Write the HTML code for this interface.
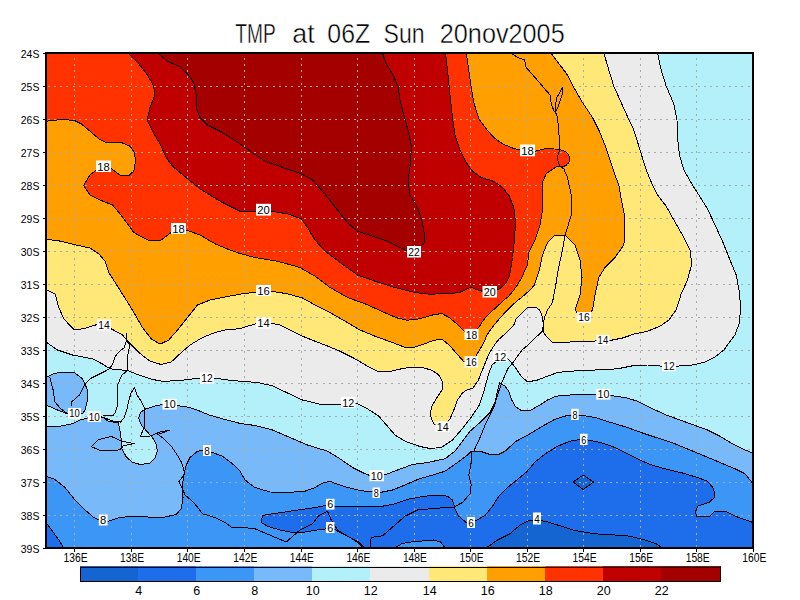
<!DOCTYPE html>
<html><head><meta charset="utf-8"><title>TMP at 06Z Sun 20nov2005</title>
<style>html,body{margin:0;padding:0;background:#fff;}svg{display:block;}text{font-family:"Liberation Sans",sans-serif;fill:#000;}</style></head><body>
<svg width="800" height="600" viewBox="0 0 800 600">
<rect x="0" y="0" width="800" height="600" fill="#fff"/>
<defs><clipPath id="cp"><rect x="46" y="53" width="707" height="495"/></clipPath></defs>
<g clip-path="url(#cp)">
<rect x="46" y="53" width="707" height="495" fill="rgb(30,110,235)"/>
<path d="M486.2 548.0 L497.5 540.0 L510.0 533.8 L520.0 525.0 L527.5 521.2 L533.0 520.0 L545.0 521.2 L557.5 525.0 L575.0 530.5 L595.0 533.8 L615.0 535.0 L630.0 536.2 L645.0 540.0 L656.2 543.8 L662.5 548.0Z" fill="rgb(20,100,210)"/>
<path d="M573.0 482.0 L583.2 475.0 L593.5 482.0 L583.2 489.5Z" fill="rgb(20,100,210)"/>
<path d="M46.0 53.0 L753.0 53.0 L753.0 522.5 L737.5 517.0 L725.0 511.2 L715.0 511.2 L710.0 516.2 L696.2 516.2 L695.8 511.2 L697.5 506.2 L708.8 502.5 L714.5 497.5 L713.8 488.8 L707.5 481.2 L697.5 477.5 L682.5 473.0 L665.0 468.8 L650.0 464.5 L637.5 458.8 L625.0 452.5 L612.5 446.5 L600.0 442.5 L588.0 440.0 L580.0 439.5 L570.0 441.2 L557.5 446.2 L545.0 454.0 L535.0 462.0 L527.0 471.5 L517.5 479.5 L507.5 487.5 L498.8 496.2 L492.5 506.2 L485.0 515.5 L475.0 521.2 L466.2 522.5 L458.8 516.2 L455.0 508.8 L452.5 500.0 L447.5 496.2 L440.0 495.0 L425.0 496.2 L410.0 498.8 L395.0 503.8 L382.5 506.2 L360.0 507.0 L334.5 506.2 L326.2 505.5 L312.5 508.0 L290.0 511.2 L272.5 513.8 L262.5 515.5 L261.2 522.5 L267.5 526.2 L280.0 530.0 L292.5 532.5 L305.0 532.0 L317.5 530.0 L326.2 528.8 L335.0 529.5 L340.0 532.5 L350.0 537.5 L357.5 542.5 L363.8 548.0 L63.8 548.0 L63.8 548.0 L58.8 540.0 L52.5 531.2 L46.0 522.5Z" fill="rgb(60,150,245)"/>
<path d="M46.0 53.0 L753.0 53.0 L753.0 483.8 L750.0 480.0 L745.0 473.8 L735.0 468.8 L720.0 462.5 L705.0 456.2 L690.0 450.0 L675.0 443.8 L660.0 438.8 L642.5 433.0 L627.5 427.5 L610.0 422.2 L595.0 417.5 L580.0 415.0 L571.2 415.0 L566.2 415.8 L555.0 419.2 L542.5 426.2 L530.0 433.8 L516.2 441.2 L505.0 451.2 L497.5 455.0 L490.0 454.5 L480.0 451.2 L471.2 451.2 L467.5 455.0 L457.5 462.5 L445.0 471.2 L432.5 475.2 L420.0 478.5 L405.0 485.0 L392.5 490.0 L380.0 492.5 L372.5 492.0 L360.0 490.5 L347.5 487.5 L336.2 483.8 L330.0 481.2 L322.5 483.2 L315.0 487.5 L305.0 491.2 L287.5 492.5 L270.0 492.0 L255.0 487.5 L245.0 480.0 L240.0 471.0 L232.5 463.8 L222.5 456.2 L212.5 452.5 L203.8 450.5 L197.5 451.2 L190.0 457.5 L186.2 465.0 L183.8 475.0 L182.5 485.0 L183.0 497.5 L181.2 508.8 L176.2 514.5 L165.0 517.0 L147.5 517.0 L132.5 516.2 L120.0 517.5 L108.0 521.2 L99.5 520.0 L93.8 517.5 L85.0 510.0 L75.0 500.0 L65.0 487.5 L55.0 479.5 L46.0 476.2Z" fill="rgb(120,185,250)"/>
<path d="M46.0 53.0 L753.0 53.0 L753.0 453.0 L745.0 450.0 L732.5 443.8 L720.0 436.2 L707.5 430.0 L695.0 425.5 L680.0 420.0 L665.0 414.5 L650.0 407.5 L637.5 401.2 L625.0 397.5 L610.5 395.5 L596.2 395.0 L585.0 394.5 L570.0 395.0 L556.2 396.2 L547.5 400.0 L540.0 405.0 L530.0 410.5 L521.2 410.5 L515.0 406.2 L511.2 398.8 L508.8 391.2 L505.0 386.2 L499.5 382.5 L497.5 391.2 L495.0 402.5 L490.0 412.5 L480.0 422.5 L470.0 431.2 L462.5 441.2 L455.0 451.2 L445.0 458.8 L427.5 462.5 L412.5 464.5 L397.5 470.0 L384.5 475.0 L370.0 475.5 L365.0 473.8 L352.5 467.5 L340.0 458.8 L327.5 451.2 L307.5 445.0 L290.0 437.5 L272.5 430.0 L255.0 425.5 L240.0 423.4 L222.5 418.8 L209.5 415.1 L199.0 410.8 L188.5 407.2 L177.0 405.5 L162.2 404.6 L153.5 406.4 L145.6 409.0 L140.4 412.5 L138.6 417.8 L141.2 424.8 L146.5 430.9 L152.6 437.9 L156.1 444.0 L157.4 451.0 L155.2 458.0 L150.0 463.2 L140.4 464.5 L132.5 462.4 L126.4 457.1 L122.0 449.2 L121.1 438.8 L119.9 430.0 L118.5 423.0 L108.0 421.2 L103.6 417.4 L101.0 416.9 L87.5 418.0 L80.0 420.0 L72.5 423.8 L60.0 426.2 L46.0 426.2Z" fill="rgb(180,240,250)"/>
<path d="M46.0 377.5 L55.0 373.2 L65.0 372.0 L75.0 373.0 L82.5 378.8 L87.0 388.8 L87.5 400.0 L85.0 410.0 L82.5 413.8 L67.5 413.8 L57.5 410.0 L46.0 405.0Z" fill="rgb(120,185,250)"/>
<path d="M395.0 548.0 L402.0 543.5 L412.5 541.8 L423.0 540.9 L433.5 540.0 L440.5 541.8 L445.0 548.0Z" fill="rgb(60,150,245)"/>
<path d="M46.0 53.0 L657.5 53.0 L661.2 70.0 L666.2 86.2 L673.8 103.8 L677.0 120.0 L677.5 137.5 L679.5 155.0 L683.8 170.0 L692.5 185.0 L698.8 195.0 L707.5 208.8 L715.0 225.0 L722.5 241.2 L730.0 260.0 L736.2 275.0 L739.5 292.5 L740.5 307.5 L739.5 322.5 L735.0 335.0 L729.0 343.0 L723.8 350.0 L715.0 357.0 L705.0 362.0 L692.5 365.0 L676.2 366.2 L662.0 366.2 L647.5 365.0 L632.5 365.8 L617.5 368.8 L595.0 370.0 L570.0 371.2 L557.5 372.5 L547.5 376.2 L537.5 380.0 L527.5 382.0 L521.2 376.2 L516.2 368.8 L511.2 362.0 L506.9 358.2 L495.5 362.0 L492.0 365.2 L488.5 374.0 L484.0 391.0 L478.8 406.2 L470.0 418.8 L461.2 430.0 L452.5 440.0 L441.2 447.5 L430.0 448.5 L420.0 446.5 L405.0 441.2 L395.0 435.0 L387.5 426.2 L378.8 416.2 L367.5 408.8 L356.2 403.0 L341.2 404.2 L320.0 404.2 L302.5 400.0 L287.5 393.0 L272.5 385.8 L257.5 382.5 L240.0 381.2 L227.5 380.0 L213.8 378.0 L200.0 378.0 L190.0 379.2 L177.5 380.8 L162.5 381.2 L152.5 379.5 L140.0 375.5 L127.5 370.5 L110.0 368.8 L102.5 364.0 L92.5 358.8 L72.5 355.0 L57.5 350.0 L46.0 342.0Z" fill="rgb(235,235,235)"/>
<path d="M46.0 53.0 L603.8 53.0 L608.8 70.0 L613.8 86.2 L625.0 111.2 L633.8 130.0 L640.0 150.0 L646.2 170.0 L652.5 185.0 L657.5 195.0 L666.2 206.2 L673.8 220.0 L682.5 235.0 L690.0 250.0 L691.8 263.8 L687.5 280.0 L681.2 293.8 L676.2 310.0 L668.8 320.0 L660.0 326.2 L647.5 331.2 L635.0 333.8 L622.5 338.0 L610.0 340.5 L596.4 340.9 L583.2 341.8 L564.0 342.1 L552.5 342.2 L545.6 335.6 L543.1 331.2 L543.1 322.5 L542.5 316.9 L540.0 310.6 L536.2 307.2 L527.5 307.2 L522.5 312.5 L518.8 316.2 L516.2 318.8 L513.8 325.0 L508.8 330.0 L503.8 335.0 L498.8 339.4 L494.4 345.0 L488.5 354.8 L485.0 363.5 L481.5 372.2 L478.0 381.0 L472.8 388.0 L466.0 390.5 L462.0 393.5 L457.5 400.0 L453.8 410.0 L450.0 418.8 L447.0 423.0 L438.0 426.5 L433.8 423.8 L430.5 416.2 L431.2 407.5 L436.2 398.8 L442.6 389.0 L442.1 381.0 L438.6 374.9 L432.5 370.5 L423.8 367.9 L415.0 367.0 L406.2 367.9 L397.5 369.6 L388.8 371.9 L377.5 371.2 L367.5 366.2 L355.0 358.8 L340.0 351.2 L325.0 345.0 L315.0 341.2 L302.5 336.2 L290.0 330.0 L280.0 325.0 L271.2 323.2 L256.0 323.8 L247.5 326.2 L240.0 328.8 L227.5 329.5 L215.0 332.5 L202.5 337.5 L190.0 345.0 L180.0 353.8 L171.2 362.0 L161.2 364.5 L150.0 361.2 L138.8 352.5 L128.8 342.5 L122.5 335.0 L111.2 328.8 L97.0 324.5 L83.8 328.8 L73.8 329.5 L63.8 318.8 L58.8 307.5 L55.0 293.8 L46.0 289.5Z" fill="rgb(255,232,120)"/>
<path d="M46.0 53.0 L550.8 53.0 L560.0 65.0 L567.5 75.0 L573.8 87.5 L582.5 102.5 L592.5 117.5 L598.8 130.0 L605.0 145.0 L610.0 160.0 L615.0 175.0 L618.8 185.0 L620.5 195.0 L624.5 215.0 L625.0 232.5 L623.8 245.0 L615.0 257.5 L605.0 267.5 L598.8 277.5 L595.0 295.0 L592.5 310.0 L588.0 316.0 L580.0 316.0 L575.0 310.0 L580.0 295.0 L582.0 277.5 L580.0 260.0 L575.0 245.0 L565.0 235.0 L555.0 235.0 L547.5 242.5 L542.5 255.0 L539.4 270.0 L537.5 275.0 L535.6 281.2 L534.4 285.0 L530.0 290.0 L523.8 295.6 L517.5 300.6 L511.2 306.2 L505.0 312.5 L500.0 318.1 L496.2 322.5 L491.2 328.8 L486.9 335.0 L485.0 340.0 L482.5 345.0 L479.0 351.0 L476.0 356.0 L471.0 362.0 L464.0 361.8 L457.0 354.0 L450.0 346.0 L442.0 339.0 L434.0 340.4 L425.5 343.4 L415.0 347.0 L406.0 347.8 L392.5 342.5 L375.0 336.2 L360.0 330.0 L345.0 321.2 L330.0 312.5 L315.0 305.0 L302.5 298.0 L287.5 293.8 L271.2 291.2 L256.0 292.0 L240.0 294.2 L225.0 297.0 L210.0 300.0 L197.5 305.0 L187.5 317.5 L177.5 330.0 L168.8 340.0 L160.0 344.2 L151.2 338.8 L142.5 327.5 L133.8 312.5 L126.2 300.0 L117.5 286.2 L108.8 272.5 L105.0 261.2 L98.8 253.8 L90.0 248.0 L72.5 244.2 L57.5 240.5 L46.0 239.5Z" fill="rgb(255,160,0)"/>
<path d="M46.0 53.0 L466.2 53.0 L468.8 70.0 L471.2 87.5 L473.8 102.5 L478.8 118.8 L486.2 128.8 L493.8 137.5 L502.5 143.8 L512.5 148.0 L520.0 150.0 L535.0 151.2 L547.5 148.2 L558.8 149.5 L565.0 151.2 L568.8 155.0 L570.0 160.0 L567.5 164.5 L562.5 167.0 L557.5 166.2 L552.5 169.2 L546.2 173.8 L543.0 181.2 L542.0 195.0 L542.5 210.0 L540.0 225.0 L535.0 240.0 L528.8 252.5 L527.5 265.0 L525.0 270.0 L521.9 277.5 L518.1 283.8 L513.8 290.0 L508.1 296.9 L503.8 300.0 L497.5 306.2 L491.9 311.2 L485.0 318.1 L481.9 322.5 L478.8 327.5 L471.0 334.0 L464.0 331.1 L457.0 324.1 L450.0 318.0 L442.1 313.6 L434.2 314.5 L425.5 317.1 L415.0 319.8 L406.2 320.1 L397.5 318.0 L388.8 314.5 L380.0 310.5 L365.0 303.8 L347.5 297.5 L330.0 287.5 L315.0 276.2 L300.0 267.5 L277.5 261.2 L255.0 257.5 L240.0 253.5 L230.0 250.0 L215.0 243.8 L200.0 235.0 L186.2 230.0 L178.0 229.0 L171.2 232.5 L161.2 240.0 L147.5 240.0 L133.8 232.5 L127.5 223.8 L120.0 213.8 L112.5 205.0 L100.0 200.0 L90.0 195.0 L87.5 191.2 L83.8 185.5 L86.2 181.2 L90.0 175.0 L98.0 169.0 L108.0 166.5 L112.5 169.5 L120.0 175.0 L128.8 175.5 L133.8 171.2 L135.5 161.2 L134.5 152.5 L130.0 146.2 L121.2 142.5 L105.0 142.0 L98.8 138.8 L90.0 131.2 L81.2 123.8 L75.0 120.8 L63.8 119.2 L46.0 121.2Z" fill="rgb(255,50,0)"/>
<path d="M128.0 53.0 L138.8 63.8 L147.5 75.0 L153.8 86.2 L154.5 96.2 L150.0 107.5 L147.0 120.0 L152.5 131.2 L160.0 143.8 L166.2 157.5 L172.5 166.2 L187.5 178.8 L200.0 188.8 L210.0 195.0 L220.0 201.2 L232.5 207.5 L240.0 211.2 L256.0 212.0 L271.2 211.2 L287.5 213.8 L301.2 218.8 L307.5 227.5 L315.0 240.0 L325.0 251.2 L340.0 262.5 L357.5 275.0 L375.0 281.2 L395.0 287.5 L415.0 292.5 L430.0 294.2 L440.0 293.8 L450.0 293.8 L460.0 292.2 L465.0 290.0 L470.6 287.2 L476.2 289.4 L482.2 291.2 L490.0 291.5 L497.5 289.8 L502.5 286.9 L506.2 282.5 L509.4 276.2 L510.6 270.0 L512.5 257.5 L514.5 240.0 L515.5 222.5 L513.8 207.5 L508.8 195.0 L502.5 187.5 L493.8 181.2 L481.2 177.5 L472.5 171.2 L466.2 162.5 L460.0 150.0 L455.0 135.0 L452.5 117.5 L450.0 95.0 L447.5 70.0 L445.5 53.0Z" fill="rgb(192,0,0)"/>
<path d="M157.5 53.0 L167.5 61.2 L178.8 66.2 L187.5 73.8 L193.8 82.5 L196.2 95.0 L196.2 107.5 L200.0 117.5 L207.5 125.0 L222.5 132.5 L232.5 138.8 L240.0 143.8 L250.0 151.2 L265.0 161.2 L290.0 170.0 L301.2 173.8 L312.5 180.0 L325.0 194.2 L337.5 210.0 L347.5 222.5 L357.5 231.2 L372.5 236.2 L387.5 241.2 L400.0 247.5 L407.5 251.2 L415.0 251.0 L421.0 246.0 L423.8 243.8 L425.0 237.5 L422.5 222.5 L417.5 207.5 L410.0 195.0 L408.0 180.0 L410.8 162.5 L411.2 145.0 L408.0 130.0 L403.8 115.0 L400.0 100.0 L398.0 86.2 L392.5 73.8 L386.2 63.8 L382.5 53.0Z" fill="rgb(165,0,0)"/>
<path d="M74.5 53 V548 M131.5 53 V548 M187.5 53 V548 M244.5 53 V548 M301.5 53 V548 M357.5 53 V548 M414.5 53 V548 M470.5 53 V548 M527.5 53 V548 M583.5 53 V548 M640.5 53 V548 M696.5 53 V548" fill="none" stroke="rgb(165,172,172)" stroke-width="1" stroke-dasharray="2 4.25" shape-rendering="crispEdges" stroke-dashoffset="1.75"/>
<path d="M46 86.5 H753 M46 119.5 H753 M46 152.5 H753 M46 185.5 H753 M46 218.5 H753 M46 251.5 H753 M46 284.5 H753 M46 317.5 H753 M46 350.5 H753 M46 383.5 H753 M46 416.5 H753 M46 449.5 H753 M46 482.5 H753 M46 515.5 H753" fill="none" stroke="rgb(165,172,172)" stroke-width="1" stroke-dasharray="2 4.25" shape-rendering="crispEdges" stroke-dashoffset="4.75"/>
<path d="M486.2 548.0 L497.5 540.0 L510.0 533.8 L520.0 525.0 L527.5 521.2 L533.0 520.0 L545.0 521.2 L557.5 525.0 L575.0 530.5 L595.0 533.8 L615.0 535.0 L630.0 536.2 L645.0 540.0 L656.2 543.8 L662.5 548.0Z" fill="none" stroke="#000" stroke-width="1" stroke-linejoin="round" shape-rendering="crispEdges"/>
<path d="M573.0 482.0 L583.2 475.0 L593.5 482.0 L583.2 489.5Z" fill="none" stroke="#000" stroke-width="1" stroke-linejoin="round" shape-rendering="crispEdges"/>
<path d="M46.0 53.0 L753.0 53.0 L753.0 522.5 L737.5 517.0 L725.0 511.2 L715.0 511.2 L710.0 516.2 L696.2 516.2 L695.8 511.2 L697.5 506.2 L708.8 502.5 L714.5 497.5 L713.8 488.8 L707.5 481.2 L697.5 477.5 L682.5 473.0 L665.0 468.8 L650.0 464.5 L637.5 458.8 L625.0 452.5 L612.5 446.5 L600.0 442.5 L588.0 440.0 L580.0 439.5 L570.0 441.2 L557.5 446.2 L545.0 454.0 L535.0 462.0 L527.0 471.5 L517.5 479.5 L507.5 487.5 L498.8 496.2 L492.5 506.2 L485.0 515.5 L475.0 521.2 L466.2 522.5 L458.8 516.2 L455.0 508.8 L452.5 500.0 L447.5 496.2 L440.0 495.0 L425.0 496.2 L410.0 498.8 L395.0 503.8 L382.5 506.2 L360.0 507.0 L334.5 506.2 L326.2 505.5 L312.5 508.0 L290.0 511.2 L272.5 513.8 L262.5 515.5 L261.2 522.5 L267.5 526.2 L280.0 530.0 L292.5 532.5 L305.0 532.0 L317.5 530.0 L326.2 528.8 L335.0 529.5 L340.0 532.5 L350.0 537.5 L357.5 542.5 L363.8 548.0 L63.8 548.0 L63.8 548.0 L58.8 540.0 L52.5 531.2 L46.0 522.5Z" fill="none" stroke="#000" stroke-width="1" stroke-linejoin="round" shape-rendering="crispEdges"/>
<path d="M46.0 53.0 L753.0 53.0 L753.0 483.8 L750.0 480.0 L745.0 473.8 L735.0 468.8 L720.0 462.5 L705.0 456.2 L690.0 450.0 L675.0 443.8 L660.0 438.8 L642.5 433.0 L627.5 427.5 L610.0 422.2 L595.0 417.5 L580.0 415.0 L571.2 415.0 L566.2 415.8 L555.0 419.2 L542.5 426.2 L530.0 433.8 L516.2 441.2 L505.0 451.2 L497.5 455.0 L490.0 454.5 L480.0 451.2 L471.2 451.2 L467.5 455.0 L457.5 462.5 L445.0 471.2 L432.5 475.2 L420.0 478.5 L405.0 485.0 L392.5 490.0 L380.0 492.5 L372.5 492.0 L360.0 490.5 L347.5 487.5 L336.2 483.8 L330.0 481.2 L322.5 483.2 L315.0 487.5 L305.0 491.2 L287.5 492.5 L270.0 492.0 L255.0 487.5 L245.0 480.0 L240.0 471.0 L232.5 463.8 L222.5 456.2 L212.5 452.5 L203.8 450.5 L197.5 451.2 L190.0 457.5 L186.2 465.0 L183.8 475.0 L182.5 485.0 L183.0 497.5 L181.2 508.8 L176.2 514.5 L165.0 517.0 L147.5 517.0 L132.5 516.2 L120.0 517.5 L108.0 521.2 L99.5 520.0 L93.8 517.5 L85.0 510.0 L75.0 500.0 L65.0 487.5 L55.0 479.5 L46.0 476.2Z" fill="none" stroke="#000" stroke-width="1" stroke-linejoin="round" shape-rendering="crispEdges"/>
<path d="M46.0 53.0 L753.0 53.0 L753.0 453.0 L745.0 450.0 L732.5 443.8 L720.0 436.2 L707.5 430.0 L695.0 425.5 L680.0 420.0 L665.0 414.5 L650.0 407.5 L637.5 401.2 L625.0 397.5 L610.5 395.5 L596.2 395.0 L585.0 394.5 L570.0 395.0 L556.2 396.2 L547.5 400.0 L540.0 405.0 L530.0 410.5 L521.2 410.5 L515.0 406.2 L511.2 398.8 L508.8 391.2 L505.0 386.2 L499.5 382.5 L497.5 391.2 L495.0 402.5 L490.0 412.5 L480.0 422.5 L470.0 431.2 L462.5 441.2 L455.0 451.2 L445.0 458.8 L427.5 462.5 L412.5 464.5 L397.5 470.0 L384.5 475.0 L370.0 475.5 L365.0 473.8 L352.5 467.5 L340.0 458.8 L327.5 451.2 L307.5 445.0 L290.0 437.5 L272.5 430.0 L255.0 425.5 L240.0 423.4 L222.5 418.8 L209.5 415.1 L199.0 410.8 L188.5 407.2 L177.0 405.5 L162.2 404.6 L153.5 406.4 L145.6 409.0 L140.4 412.5 L138.6 417.8 L141.2 424.8 L146.5 430.9 L152.6 437.9 L156.1 444.0 L157.4 451.0 L155.2 458.0 L150.0 463.2 L140.4 464.5 L132.5 462.4 L126.4 457.1 L122.0 449.2 L121.1 438.8 L119.9 430.0 L118.5 423.0 L108.0 421.2 L103.6 417.4 L101.0 416.9 L87.5 418.0 L80.0 420.0 L72.5 423.8 L60.0 426.2 L46.0 426.2Z" fill="none" stroke="#000" stroke-width="1" stroke-linejoin="round" shape-rendering="crispEdges"/>
<path d="M46.0 377.5 L55.0 373.2 L65.0 372.0 L75.0 373.0 L82.5 378.8 L87.0 388.8 L87.5 400.0 L85.0 410.0 L82.5 413.8 L67.5 413.8 L57.5 410.0 L46.0 405.0Z" fill="none" stroke="#000" stroke-width="1" stroke-linejoin="round" shape-rendering="crispEdges"/>
<path d="M395.0 548.0 L402.0 543.5 L412.5 541.8 L423.0 540.9 L433.5 540.0 L440.5 541.8 L445.0 548.0Z" fill="none" stroke="#000" stroke-width="1" stroke-linejoin="round" shape-rendering="crispEdges"/>
<path d="M46.0 53.0 L657.5 53.0 L661.2 70.0 L666.2 86.2 L673.8 103.8 L677.0 120.0 L677.5 137.5 L679.5 155.0 L683.8 170.0 L692.5 185.0 L698.8 195.0 L707.5 208.8 L715.0 225.0 L722.5 241.2 L730.0 260.0 L736.2 275.0 L739.5 292.5 L740.5 307.5 L739.5 322.5 L735.0 335.0 L729.0 343.0 L723.8 350.0 L715.0 357.0 L705.0 362.0 L692.5 365.0 L676.2 366.2 L662.0 366.2 L647.5 365.0 L632.5 365.8 L617.5 368.8 L595.0 370.0 L570.0 371.2 L557.5 372.5 L547.5 376.2 L537.5 380.0 L527.5 382.0 L521.2 376.2 L516.2 368.8 L511.2 362.0 L506.9 358.2 L495.5 362.0 L492.0 365.2 L488.5 374.0 L484.0 391.0 L478.8 406.2 L470.0 418.8 L461.2 430.0 L452.5 440.0 L441.2 447.5 L430.0 448.5 L420.0 446.5 L405.0 441.2 L395.0 435.0 L387.5 426.2 L378.8 416.2 L367.5 408.8 L356.2 403.0 L341.2 404.2 L320.0 404.2 L302.5 400.0 L287.5 393.0 L272.5 385.8 L257.5 382.5 L240.0 381.2 L227.5 380.0 L213.8 378.0 L200.0 378.0 L190.0 379.2 L177.5 380.8 L162.5 381.2 L152.5 379.5 L140.0 375.5 L127.5 370.5 L110.0 368.8 L102.5 364.0 L92.5 358.8 L72.5 355.0 L57.5 350.0 L46.0 342.0Z" fill="none" stroke="#000" stroke-width="1" stroke-linejoin="round" shape-rendering="crispEdges"/>
<path d="M46.0 53.0 L603.8 53.0 L608.8 70.0 L613.8 86.2 L625.0 111.2 L633.8 130.0 L640.0 150.0 L646.2 170.0 L652.5 185.0 L657.5 195.0 L666.2 206.2 L673.8 220.0 L682.5 235.0 L690.0 250.0 L691.8 263.8 L687.5 280.0 L681.2 293.8 L676.2 310.0 L668.8 320.0 L660.0 326.2 L647.5 331.2 L635.0 333.8 L622.5 338.0 L610.0 340.5 L596.4 340.9 L583.2 341.8 L564.0 342.1 L552.5 342.2 L545.6 335.6 L543.1 331.2 L543.1 322.5 L542.5 316.9 L540.0 310.6 L536.2 307.2 L527.5 307.2 L522.5 312.5 L518.8 316.2 L516.2 318.8 L513.8 325.0 L508.8 330.0 L503.8 335.0 L498.8 339.4 L494.4 345.0 L488.5 354.8 L485.0 363.5 L481.5 372.2 L478.0 381.0 L472.8 388.0 L466.0 390.5 L462.0 393.5 L457.5 400.0 L453.8 410.0 L450.0 418.8 L447.0 423.0 L438.0 426.5 L433.8 423.8 L430.5 416.2 L431.2 407.5 L436.2 398.8 L442.6 389.0 L442.1 381.0 L438.6 374.9 L432.5 370.5 L423.8 367.9 L415.0 367.0 L406.2 367.9 L397.5 369.6 L388.8 371.9 L377.5 371.2 L367.5 366.2 L355.0 358.8 L340.0 351.2 L325.0 345.0 L315.0 341.2 L302.5 336.2 L290.0 330.0 L280.0 325.0 L271.2 323.2 L256.0 323.8 L247.5 326.2 L240.0 328.8 L227.5 329.5 L215.0 332.5 L202.5 337.5 L190.0 345.0 L180.0 353.8 L171.2 362.0 L161.2 364.5 L150.0 361.2 L138.8 352.5 L128.8 342.5 L122.5 335.0 L111.2 328.8 L97.0 324.5 L83.8 328.8 L73.8 329.5 L63.8 318.8 L58.8 307.5 L55.0 293.8 L46.0 289.5Z" fill="none" stroke="#000" stroke-width="1" stroke-linejoin="round" shape-rendering="crispEdges"/>
<path d="M46.0 53.0 L550.8 53.0 L560.0 65.0 L567.5 75.0 L573.8 87.5 L582.5 102.5 L592.5 117.5 L598.8 130.0 L605.0 145.0 L610.0 160.0 L615.0 175.0 L618.8 185.0 L620.5 195.0 L624.5 215.0 L625.0 232.5 L623.8 245.0 L615.0 257.5 L605.0 267.5 L598.8 277.5 L595.0 295.0 L592.5 310.0 L588.0 316.0 L580.0 316.0 L575.0 310.0 L580.0 295.0 L582.0 277.5 L580.0 260.0 L575.0 245.0 L565.0 235.0 L555.0 235.0 L547.5 242.5 L542.5 255.0 L539.4 270.0 L537.5 275.0 L535.6 281.2 L534.4 285.0 L530.0 290.0 L523.8 295.6 L517.5 300.6 L511.2 306.2 L505.0 312.5 L500.0 318.1 L496.2 322.5 L491.2 328.8 L486.9 335.0 L485.0 340.0 L482.5 345.0 L479.0 351.0 L476.0 356.0 L471.0 362.0 L464.0 361.8 L457.0 354.0 L450.0 346.0 L442.0 339.0 L434.0 340.4 L425.5 343.4 L415.0 347.0 L406.0 347.8 L392.5 342.5 L375.0 336.2 L360.0 330.0 L345.0 321.2 L330.0 312.5 L315.0 305.0 L302.5 298.0 L287.5 293.8 L271.2 291.2 L256.0 292.0 L240.0 294.2 L225.0 297.0 L210.0 300.0 L197.5 305.0 L187.5 317.5 L177.5 330.0 L168.8 340.0 L160.0 344.2 L151.2 338.8 L142.5 327.5 L133.8 312.5 L126.2 300.0 L117.5 286.2 L108.8 272.5 L105.0 261.2 L98.8 253.8 L90.0 248.0 L72.5 244.2 L57.5 240.5 L46.0 239.5Z" fill="none" stroke="#000" stroke-width="1" stroke-linejoin="round" shape-rendering="crispEdges"/>
<path d="M46.0 53.0 L466.2 53.0 L468.8 70.0 L471.2 87.5 L473.8 102.5 L478.8 118.8 L486.2 128.8 L493.8 137.5 L502.5 143.8 L512.5 148.0 L520.0 150.0 L535.0 151.2 L547.5 148.2 L558.8 149.5 L565.0 151.2 L568.8 155.0 L570.0 160.0 L567.5 164.5 L562.5 167.0 L557.5 166.2 L552.5 169.2 L546.2 173.8 L543.0 181.2 L542.0 195.0 L542.5 210.0 L540.0 225.0 L535.0 240.0 L528.8 252.5 L527.5 265.0 L525.0 270.0 L521.9 277.5 L518.1 283.8 L513.8 290.0 L508.1 296.9 L503.8 300.0 L497.5 306.2 L491.9 311.2 L485.0 318.1 L481.9 322.5 L478.8 327.5 L471.0 334.0 L464.0 331.1 L457.0 324.1 L450.0 318.0 L442.1 313.6 L434.2 314.5 L425.5 317.1 L415.0 319.8 L406.2 320.1 L397.5 318.0 L388.8 314.5 L380.0 310.5 L365.0 303.8 L347.5 297.5 L330.0 287.5 L315.0 276.2 L300.0 267.5 L277.5 261.2 L255.0 257.5 L240.0 253.5 L230.0 250.0 L215.0 243.8 L200.0 235.0 L186.2 230.0 L178.0 229.0 L171.2 232.5 L161.2 240.0 L147.5 240.0 L133.8 232.5 L127.5 223.8 L120.0 213.8 L112.5 205.0 L100.0 200.0 L90.0 195.0 L87.5 191.2 L83.8 185.5 L86.2 181.2 L90.0 175.0 L98.0 169.0 L108.0 166.5 L112.5 169.5 L120.0 175.0 L128.8 175.5 L133.8 171.2 L135.5 161.2 L134.5 152.5 L130.0 146.2 L121.2 142.5 L105.0 142.0 L98.8 138.8 L90.0 131.2 L81.2 123.8 L75.0 120.8 L63.8 119.2 L46.0 121.2Z" fill="none" stroke="#000" stroke-width="1" stroke-linejoin="round" shape-rendering="crispEdges"/>
<path d="M128.0 53.0 L138.8 63.8 L147.5 75.0 L153.8 86.2 L154.5 96.2 L150.0 107.5 L147.0 120.0 L152.5 131.2 L160.0 143.8 L166.2 157.5 L172.5 166.2 L187.5 178.8 L200.0 188.8 L210.0 195.0 L220.0 201.2 L232.5 207.5 L240.0 211.2 L256.0 212.0 L271.2 211.2 L287.5 213.8 L301.2 218.8 L307.5 227.5 L315.0 240.0 L325.0 251.2 L340.0 262.5 L357.5 275.0 L375.0 281.2 L395.0 287.5 L415.0 292.5 L430.0 294.2 L440.0 293.8 L450.0 293.8 L460.0 292.2 L465.0 290.0 L470.6 287.2 L476.2 289.4 L482.2 291.2 L490.0 291.5 L497.5 289.8 L502.5 286.9 L506.2 282.5 L509.4 276.2 L510.6 270.0 L512.5 257.5 L514.5 240.0 L515.5 222.5 L513.8 207.5 L508.8 195.0 L502.5 187.5 L493.8 181.2 L481.2 177.5 L472.5 171.2 L466.2 162.5 L460.0 150.0 L455.0 135.0 L452.5 117.5 L450.0 95.0 L447.5 70.0 L445.5 53.0Z" fill="none" stroke="#000" stroke-width="1" stroke-linejoin="round" shape-rendering="crispEdges"/>
<path d="M157.5 53.0 L167.5 61.2 L178.8 66.2 L187.5 73.8 L193.8 82.5 L196.2 95.0 L196.2 107.5 L200.0 117.5 L207.5 125.0 L222.5 132.5 L232.5 138.8 L240.0 143.8 L250.0 151.2 L265.0 161.2 L290.0 170.0 L301.2 173.8 L312.5 180.0 L325.0 194.2 L337.5 210.0 L347.5 222.5 L357.5 231.2 L372.5 236.2 L387.5 241.2 L400.0 247.5 L407.5 251.2 L415.0 251.0 L421.0 246.0 L423.8 243.8 L425.0 237.5 L422.5 222.5 L417.5 207.5 L410.0 195.0 L408.0 180.0 L410.8 162.5 L411.2 145.0 L408.0 130.0 L403.8 115.0 L400.0 100.0 L398.0 86.2 L392.5 73.8 L386.2 63.8 L382.5 53.0Z" fill="none" stroke="#000" stroke-width="1" stroke-linejoin="round" shape-rendering="crispEdges"/>
<path d="M511.2 53.0 L517.5 57.5 L524.5 60.0 L526.2 67.5 L535.0 77.5 L542.5 86.2 L550.0 95.0 L551.2 103.8 L553.8 110.5 L556.2 113.8 L557.5 117.5 L558.8 132.5 L560.0 148.8 L557.0 158.8 L560.0 166.2 L563.8 168.8 L567.5 177.5 L571.2 195.0 L571.2 215.0 L567.5 227.5 L565.0 235.0 L562.5 250.0 L558.1 270.0 L556.2 282.5 L553.8 295.0 L552.5 302.5 L547.5 310.0 L545.0 316.2 L543.5 322.5 L542.5 331.2 L535.0 338.1 L528.1 345.0 L522.0 350.0 L514.1 361.0 L507.8 368.8 L502.5 381.0 L498.5 392.0 L493.8 407.5 L486.2 422.5 L480.0 437.5 L473.8 451.2 L471.2 452.5 L471.2 462.5 L468.8 475.0 L471.2 485.0 L470.0 493.8 L462.5 502.5 L453.8 507.0 L440.0 508.0 L430.0 508.8 L417.5 510.0 L405.0 516.2 L395.0 525.0 L382.5 535.8 L371.2 537.5 L370.0 548.0" fill="none" stroke="#000" stroke-width="1" stroke-linejoin="round" shape-rendering="crispEdges"/>
<path d="M562.5 87.5 L556.2 98.8 L555.5 112.5 L558.8 105.0 L562.5 93.8 L562.5 87.5" fill="none" stroke="#000" stroke-width="1" stroke-linejoin="round" shape-rendering="crispEdges"/>
<path d="M365.0 548.0 L357.5 541.2 L347.5 536.2 L337.5 530.0 L331.2 520.0 L327.5 511.2 L318.8 515.5 L312.5 523.8 L300.0 530.0 L286.2 542.0 L272.5 536.2 L255.0 528.8 L240.0 527.0 L232.5 528.0 L225.0 522.5 L215.0 517.5 L202.5 513.8 L193.8 502.5 L185.0 495.0 L182.5 488.8 L178.9 481.6 L185.0 473.8 L181.5 462.4 L178.0 456.2 L171.0 445.8 L164.0 438.8 L157.9 434.4 L170.1 430.0 L160.5 431.8 L150.0 436.1 L140.4 436.1 L144.8 426.5 L144.8 409.0 L141.5 402.0 L137.1 395.0 L134.5 387.1 L131.0 393.2 L128.4 402.0 L126.6 410.8 L124.0 417.8 L120.5 422.1 L113.5 421.2 L106.5 418.6 L102.1 416.9" fill="none" stroke="#000" stroke-width="1" stroke-linejoin="round" shape-rendering="crispEdges"/>
<path d="M103.0 415.1 L112.6 416.0 L115.2 412.5 L117.9 403.8 L117.0 395.0 L117.9 384.5 L121.4 375.8 L127.5 370.1 L127.0 360.0 L128.4 351.2 L130.1 345.1 L126.6 340.8 L126.3 332.9" fill="none" stroke="#000" stroke-width="1" stroke-linejoin="round" shape-rendering="crispEdges"/>
<path d="M126.6 340.8 L124.0 347.8 L119.6 351.2 L115.2 356.5 L112.6 364.4 L109.1 368.8 L104.8 371.4 L90.8 378.4 L84.6 384.5 L79.4 395.0 L71.5 402.0 L71.5 406.4" fill="none" stroke="#000" stroke-width="1" stroke-linejoin="round" shape-rendering="crispEdges"/>
<path d="M49.6 376.6 L53.1 389.8 L54.9 402.0 L61.0 409.0 L68.0 414.2" fill="none" stroke="#000" stroke-width="1" stroke-linejoin="round" shape-rendering="crispEdges"/>
<path d="M91.4 446.6 L98.4 439.6 L111.5 436.5 L121.1 440.9 L134.2 443.6 L122.9 445.8 L122.0 448.4 L116.8 450.6 L99.2 450.1 L91.4 446.6" fill="none" stroke="#000" stroke-width="1" stroke-linejoin="round" shape-rendering="crispEdges"/>
<rect x="96.0" y="160.5" width="15.0" height="11.5" fill="#fff"/>
<text x="97.2" y="170.5" font-size="11" textLength="12.5" lengthAdjust="spacingAndGlyphs">18</text>
<rect x="171.0" y="223.0" width="15.0" height="11.0" fill="#fff"/>
<text x="172.2" y="232.5" font-size="11" textLength="12.5" lengthAdjust="spacingAndGlyphs">18</text>
<rect x="520.0" y="144.5" width="15.0" height="11.8" fill="#fff"/>
<text x="521.2" y="154.8" font-size="11" textLength="12.5" lengthAdjust="spacingAndGlyphs">18</text>
<rect x="464.5" y="328.9" width="14.0" height="11.1" fill="#fff"/>
<text x="465.7" y="338.5" font-size="11" textLength="11.5" lengthAdjust="spacingAndGlyphs">18</text>
<rect x="256.0" y="203.8" width="15.0" height="11.8" fill="#fff"/>
<text x="257.2" y="214.0" font-size="11" textLength="12.5" lengthAdjust="spacingAndGlyphs">20</text>
<rect x="482.5" y="286.0" width="14.5" height="11.5" fill="#fff"/>
<text x="483.7" y="296.0" font-size="11" textLength="12.0" lengthAdjust="spacingAndGlyphs">20</text>
<rect x="407.0" y="246.0" width="14.0" height="11.5" fill="#fff"/>
<text x="408.2" y="256.0" font-size="11" textLength="11.5" lengthAdjust="spacingAndGlyphs">22</text>
<rect x="256.0" y="285.0" width="15.0" height="11.0" fill="#fff"/>
<text x="257.2" y="294.5" font-size="11" textLength="12.5" lengthAdjust="spacingAndGlyphs">16</text>
<rect x="577.0" y="312.0" width="14.0" height="10.5" fill="#fff"/>
<text x="578.2" y="321.0" font-size="11" textLength="11.5" lengthAdjust="spacingAndGlyphs">16</text>
<rect x="464.5" y="356.2" width="13.5" height="11.2" fill="#fff"/>
<text x="465.7" y="366.0" font-size="11" textLength="11.0" lengthAdjust="spacingAndGlyphs">16</text>
<rect x="97.0" y="319.5" width="14.0" height="11.0" fill="#fff"/>
<text x="98.2" y="329.0" font-size="11" textLength="11.5" lengthAdjust="spacingAndGlyphs">14</text>
<rect x="256.0" y="317.5" width="15.0" height="11.2" fill="#fff"/>
<text x="257.2" y="327.2" font-size="11" textLength="12.5" lengthAdjust="spacingAndGlyphs">14</text>
<rect x="596.4" y="334.8" width="13.1" height="10.8" fill="#fff"/>
<text x="597.6" y="344.0" font-size="11" textLength="10.6" lengthAdjust="spacingAndGlyphs">14</text>
<rect x="435.5" y="421.2" width="14.5" height="10.8" fill="#fff"/>
<text x="436.7" y="430.5" font-size="11" textLength="12.0" lengthAdjust="spacingAndGlyphs">14</text>
<rect x="200.0" y="372.5" width="14.0" height="11.2" fill="#fff"/>
<text x="201.2" y="382.2" font-size="11" textLength="11.5" lengthAdjust="spacingAndGlyphs">12</text>
<rect x="341.0" y="397.0" width="14.5" height="11.0" fill="#fff"/>
<text x="342.2" y="406.5" font-size="11" textLength="12.0" lengthAdjust="spacingAndGlyphs">12</text>
<rect x="493.0" y="351.2" width="14.5" height="10.8" fill="#fff"/>
<text x="494.2" y="360.5" font-size="11" textLength="12.0" lengthAdjust="spacingAndGlyphs">12</text>
<rect x="662.0" y="360.5" width="14.0" height="10.8" fill="#fff"/>
<text x="663.2" y="369.8" font-size="11" textLength="11.5" lengthAdjust="spacingAndGlyphs">12</text>
<rect x="68.0" y="408.0" width="13.0" height="10.8" fill="#fff"/>
<text x="69.2" y="417.2" font-size="11" textLength="10.5" lengthAdjust="spacingAndGlyphs">10</text>
<rect x="87.5" y="411.0" width="13.5" height="11.0" fill="#fff"/>
<text x="88.7" y="420.5" font-size="11" textLength="11.0" lengthAdjust="spacingAndGlyphs">10</text>
<rect x="162.5" y="398.8" width="14.5" height="10.8" fill="#fff"/>
<text x="163.7" y="408.0" font-size="11" textLength="12.0" lengthAdjust="spacingAndGlyphs">10</text>
<rect x="369.5" y="470.0" width="14.5" height="11.2" fill="#fff"/>
<text x="370.7" y="479.8" font-size="11" textLength="12.0" lengthAdjust="spacingAndGlyphs">10</text>
<rect x="596.2" y="388.8" width="14.2" height="10.8" fill="#fff"/>
<text x="597.5" y="398.0" font-size="11" textLength="11.8" lengthAdjust="spacingAndGlyphs">10</text>
<rect x="203.0" y="445.0" width="8.0" height="11.0" fill="#fff"/>
<text x="204.2" y="454.5" font-size="11" textLength="5.5" lengthAdjust="spacingAndGlyphs">8</text>
<rect x="98.8" y="514.5" width="8.8" height="11.0" fill="#fff"/>
<text x="100.0" y="524.0" font-size="11" textLength="6.2" lengthAdjust="spacingAndGlyphs">8</text>
<rect x="372.5" y="487.5" width="7.5" height="10.5" fill="#fff"/>
<text x="373.7" y="496.5" font-size="11" textLength="5.0" lengthAdjust="spacingAndGlyphs">8</text>
<rect x="571.2" y="408.8" width="7.5" height="11.2" fill="#fff"/>
<text x="572.5" y="418.5" font-size="11" textLength="5.0" lengthAdjust="spacingAndGlyphs">8</text>
<rect x="326.0" y="498.8" width="8.5" height="10.8" fill="#fff"/>
<text x="327.2" y="508.0" font-size="11" textLength="6.0" lengthAdjust="spacingAndGlyphs">6</text>
<rect x="326.0" y="522.0" width="8.5" height="11.0" fill="#fff"/>
<text x="327.2" y="531.5" font-size="11" textLength="6.0" lengthAdjust="spacingAndGlyphs">6</text>
<rect x="467.0" y="517.0" width="8.0" height="11.0" fill="#fff"/>
<text x="468.2" y="526.5" font-size="11" textLength="5.5" lengthAdjust="spacingAndGlyphs">6</text>
<rect x="580.0" y="433.8" width="7.5" height="11.2" fill="#fff"/>
<text x="581.2" y="443.5" font-size="11" textLength="5.0" lengthAdjust="spacingAndGlyphs">6</text>
<rect x="533.0" y="512.5" width="8.0" height="12.0" fill="#fff"/>
<text x="534.2" y="523.0" font-size="11" textLength="5.5" lengthAdjust="spacingAndGlyphs">4</text>
</g>
<rect x="46" y="53" width="707" height="495" fill="none" stroke="#000" stroke-width="2"/>
<text x="75.6" y="562" font-size="12" text-anchor="middle" textLength="24" lengthAdjust="spacingAndGlyphs">136E</text>
<text x="132.1" y="562" font-size="12" text-anchor="middle" textLength="24" lengthAdjust="spacingAndGlyphs">138E</text>
<text x="188.7" y="562" font-size="12" text-anchor="middle" textLength="24" lengthAdjust="spacingAndGlyphs">140E</text>
<text x="245.3" y="562" font-size="12" text-anchor="middle" textLength="24" lengthAdjust="spacingAndGlyphs">142E</text>
<text x="301.8" y="562" font-size="12" text-anchor="middle" textLength="24" lengthAdjust="spacingAndGlyphs">144E</text>
<text x="358.4" y="562" font-size="12" text-anchor="middle" textLength="24" lengthAdjust="spacingAndGlyphs">146E</text>
<text x="414.9" y="562" font-size="12" text-anchor="middle" textLength="24" lengthAdjust="spacingAndGlyphs">148E</text>
<text x="471.5" y="562" font-size="12" text-anchor="middle" textLength="24" lengthAdjust="spacingAndGlyphs">150E</text>
<text x="528.1" y="562" font-size="12" text-anchor="middle" textLength="24" lengthAdjust="spacingAndGlyphs">152E</text>
<text x="584.6" y="562" font-size="12" text-anchor="middle" textLength="24" lengthAdjust="spacingAndGlyphs">154E</text>
<text x="641.2" y="562" font-size="12" text-anchor="middle" textLength="24" lengthAdjust="spacingAndGlyphs">156E</text>
<text x="697.7" y="562" font-size="12" text-anchor="middle" textLength="24" lengthAdjust="spacingAndGlyphs">158E</text>
<text x="754.3" y="562" font-size="12" text-anchor="middle" textLength="24" lengthAdjust="spacingAndGlyphs">160E</text>
<text x="20.8" y="58.3" font-size="11" textLength="18.6" lengthAdjust="spacingAndGlyphs">24S</text>
<text x="20.8" y="91.3" font-size="11" textLength="18.6" lengthAdjust="spacingAndGlyphs">25S</text>
<text x="20.8" y="124.3" font-size="11" textLength="18.6" lengthAdjust="spacingAndGlyphs">26S</text>
<text x="20.8" y="157.3" font-size="11" textLength="18.6" lengthAdjust="spacingAndGlyphs">27S</text>
<text x="20.8" y="190.3" font-size="11" textLength="18.6" lengthAdjust="spacingAndGlyphs">28S</text>
<text x="20.8" y="223.3" font-size="11" textLength="18.6" lengthAdjust="spacingAndGlyphs">29S</text>
<text x="20.8" y="256.3" font-size="11" textLength="18.6" lengthAdjust="spacingAndGlyphs">30S</text>
<text x="20.8" y="289.3" font-size="11" textLength="18.6" lengthAdjust="spacingAndGlyphs">31S</text>
<text x="20.8" y="322.3" font-size="11" textLength="18.6" lengthAdjust="spacingAndGlyphs">32S</text>
<text x="20.8" y="355.3" font-size="11" textLength="18.6" lengthAdjust="spacingAndGlyphs">33S</text>
<text x="20.8" y="388.3" font-size="11" textLength="18.6" lengthAdjust="spacingAndGlyphs">34S</text>
<text x="20.8" y="421.3" font-size="11" textLength="18.6" lengthAdjust="spacingAndGlyphs">35S</text>
<text x="20.8" y="454.3" font-size="11" textLength="18.6" lengthAdjust="spacingAndGlyphs">36S</text>
<text x="20.8" y="487.3" font-size="11" textLength="18.6" lengthAdjust="spacingAndGlyphs">37S</text>
<text x="20.8" y="520.3" font-size="11" textLength="18.6" lengthAdjust="spacingAndGlyphs">38S</text>
<text x="20.8" y="553.3" font-size="11" textLength="18.6" lengthAdjust="spacingAndGlyphs">39S</text>
<path d="M74.5 548 V552 M131.5 548 V552 M187.5 548 V552 M244.5 548 V552 M301.5 548 V552 M357.5 548 V552 M414.5 548 V552 M470.5 548 V552 M527.5 548 V552 M583.5 548 V552 M640.5 548 V552 M696.5 548 V552 M753.5 548 V552 M43 53.5 H46 M43 86.5 H46 M43 119.5 H46 M43 152.5 H46 M43 185.5 H46 M43 218.5 H46 M43 251.5 H46 M43 284.5 H46 M43 317.5 H46 M43 350.5 H46 M43 383.5 H46 M43 416.5 H46 M43 449.5 H46 M43 482.5 H46 M43 515.5 H46 M43 548.5 H46" fill="none" stroke="#000" stroke-width="1" shape-rendering="crispEdges"/>
<text x="235.3" y="42.5" font-size="27.5" textLength="40.4" lengthAdjust="spacingAndGlyphs" stroke="#fff" stroke-width="0.45">TMP</text>
<text x="292.3" y="42.5" font-size="27.5" textLength="22.4" lengthAdjust="spacingAndGlyphs" stroke="#fff" stroke-width="0.45">at</text>
<text x="327.3" y="42.5" font-size="27.5" textLength="42.9" lengthAdjust="spacingAndGlyphs" stroke="#fff" stroke-width="0.45">06Z</text>
<text x="383.6" y="42.5" font-size="27.5" textLength="41.1" lengthAdjust="spacingAndGlyphs" stroke="#fff" stroke-width="0.45">Sun</text>
<text x="439.8" y="42.5" font-size="27.5" textLength="124.9" lengthAdjust="spacingAndGlyphs" stroke="#fff" stroke-width="0.45">20nov2005</text>
<rect x="80" y="566" width="58" height="16" fill="rgb(20,100,210)" shape-rendering="crispEdges"/>
<rect x="138" y="566" width="58" height="16" fill="rgb(30,110,235)" shape-rendering="crispEdges"/>
<rect x="196" y="566" width="58" height="16" fill="rgb(60,150,245)" shape-rendering="crispEdges"/>
<rect x="254" y="566" width="58" height="16" fill="rgb(120,185,250)" shape-rendering="crispEdges"/>
<rect x="312" y="566" width="58" height="16" fill="rgb(180,240,250)" shape-rendering="crispEdges"/>
<rect x="370" y="566" width="59" height="16" fill="rgb(235,235,235)" shape-rendering="crispEdges"/>
<rect x="429" y="566" width="58" height="16" fill="rgb(255,232,120)" shape-rendering="crispEdges"/>
<rect x="487" y="566" width="58" height="16" fill="rgb(255,160,0)" shape-rendering="crispEdges"/>
<rect x="545" y="566" width="58" height="16" fill="rgb(255,50,0)" shape-rendering="crispEdges"/>
<rect x="603" y="566" width="58" height="16" fill="rgb(192,0,0)" shape-rendering="crispEdges"/>
<rect x="661" y="566" width="60" height="16" fill="rgb(165,0,0)" shape-rendering="crispEdges"/>
<rect x="80.5" y="567.5" width="640" height="14" fill="none" stroke="#000" stroke-width="1" shape-rendering="crispEdges"/>
<text x="138.7" y="594.5" font-size="12.5" text-anchor="middle">4</text>
<text x="196.7" y="594.5" font-size="12.5" text-anchor="middle">6</text>
<text x="254.7" y="594.5" font-size="12.5" text-anchor="middle">8</text>
<text x="312.7" y="594.5" font-size="12.5" text-anchor="middle">10</text>
<text x="370.7" y="594.5" font-size="12.5" text-anchor="middle">12</text>
<text x="429.7" y="594.5" font-size="12.5" text-anchor="middle">14</text>
<text x="487.7" y="594.5" font-size="12.5" text-anchor="middle">16</text>
<text x="545.7" y="594.5" font-size="12.5" text-anchor="middle">18</text>
<text x="603.7" y="594.5" font-size="12.5" text-anchor="middle">20</text>
<text x="661.7" y="594.5" font-size="12.5" text-anchor="middle">22</text>
</svg></body></html>
